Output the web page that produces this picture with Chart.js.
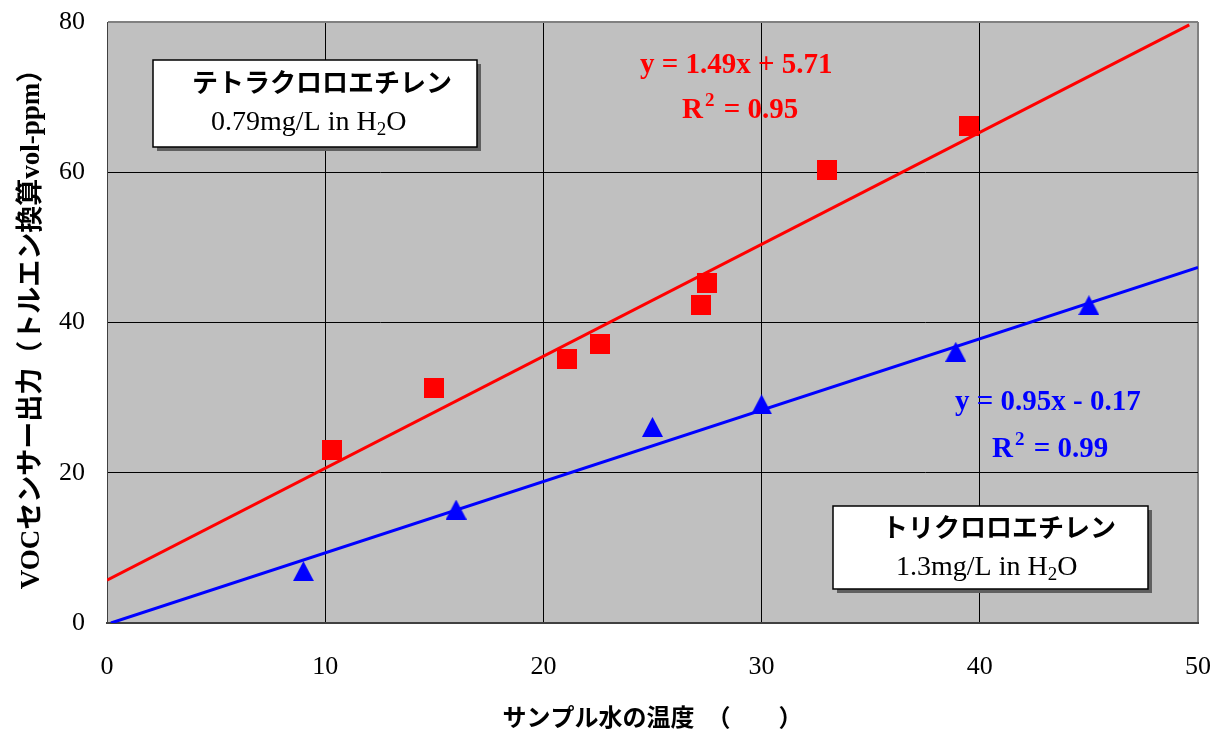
<!DOCTYPE html>
<html>
<head>
<meta charset="utf-8">
<script src="https://cdn.jsdelivr.net/npm/chart.js@4"></script>
<style>
  body { margin: 0; background: #fff; }
  canvas { display: block; }
</style>
</head>
<body>
<canvas id="chart" width="1214" height="731"></canvas>
<script>
//Chart data
var xTicks = [0, 10, 20, 30, 40, 50];
var yTicks = [0, 20, 40, 60, 80];

// tetrachloroethylene (red squares)
var tetraX = [10.3, 15.0, 21.1, 22.6, 27.2, 27.5, 33.0, 39.5];
var tetraY = [23.0, 31.3, 35.1, 37.1, 42.3, 45.2, 60.3, 66.2];
var tetraFit = [1.49, 5.71];      // slope, intercept
var tetraFitRange = [0, 49.6];

// trichloroethylene (blue triangles)
var triX = [9.0, 16.0, 25.0, 30.0, 38.9, 45.0];
var triY = [6.9, 15.1, 26.1, 29.1, 36.1, 42.3];
var triFit = [0.95, -0.17];
var triFitRange = [0.18, 50];

var xTitle = 'サンプル水の温度　（　　）';
var yTitle = 'VOCセンサー出力（トルエン換算vol-ppm）';

//Helpers
function toPoints(xs, ys) {
  var pts = [];
  for (var i = 0; i < xs.length; i++) {
    pts.push({x: xs[i], y: ys[i]});
  }
  return pts;
}

function fitPoints(fit, range) {
  return [
    {x: range[0], y: fit[0] * range[0] + fit[1]},
    {x: range[1], y: fit[0] * range[1] + fit[1]}
  ];
}

function makeSquare(size, color) {
  var c = document.createElement('canvas');
  c.width = size; c.height = size;
  var g = c.getContext('2d');
  g.fillStyle = color;
  g.fillRect(0, 0, size, size);
  return c;
}

function makeTriangle(w, h, color) {
  var c = document.createElement('canvas');
  c.width = w; c.height = h;
  var g = c.getContext('2d');
  g.fillStyle = color;
  g.beginPath();
  g.moveTo(w / 2, 0);
  g.lineTo(w, h);
  g.lineTo(0, h);
  g.closePath();
  g.fill();
  return c;
}

var RED = '#ff0000';
var BLUE = '#0000ff';
var SERIF = "'Liberation Serif', 'Times New Roman', serif";
var CJK = "'Noto Sans CJK JP', sans-serif";

//Plot background, text boxes and equations
var decorPlugin = {
  id: 'decor',
  beforeDraw: function (chart) {
    var a = chart.chartArea;
    var ctx = chart.ctx;
    ctx.save();
    ctx.fillStyle = '#c0c0c0';
    ctx.fillRect(a.left, a.top, a.right - a.left, a.bottom - a.top);
    ctx.restore();
  },
  afterDraw: function (chart) {
    var ctx = chart.ctx;
    ctx.save();

    function box(x, y, w, h) {
      ctx.fillStyle = '#606060';
      ctx.fillRect(x + 4, y + 4, w, h);
      ctx.fillStyle = '#ffffff';
      ctx.fillRect(x, y, w, h);
      ctx.strokeStyle = '#000000';
      ctx.lineWidth = 1.5;
      ctx.strokeRect(x, y, w, h);
    }

    function chem(x, y, amount) {
      ctx.fillStyle = '#000';
      ctx.textBaseline = 'alphabetic';
      ctx.font = '28px ' + SERIF;
      var s = amount + 'mg/L in H';
      ctx.fillText(s, x, y);
      var w = ctx.measureText(s).width;
      ctx.font = '19px ' + SERIF;
      ctx.fillText('2', x + w, y + 5);
      var w2 = ctx.measureText('2').width;
      ctx.font = '28px ' + SERIF;
      ctx.fillText('O', x + w + w2, y);
    }

    function rsq(x, y, val, color) {
      ctx.fillStyle = color;
      ctx.textBaseline = 'alphabetic';
      ctx.font = 'bold 29px ' + SERIF;
      ctx.fillText('R', x, y);
      var w = ctx.measureText('R').width;
      ctx.font = 'bold 19px ' + SERIF;
      ctx.fillText('2', x + w + 2, y - 12);
      var w2 = ctx.measureText('2').width;
      ctx.font = 'bold 29px ' + SERIF;
      ctx.fillText(' = ' + val, x + w + w2 + 4, y);
    }

    box(153, 60, 324, 87);
    ctx.fillStyle = '#000';
    ctx.textBaseline = 'middle';
    ctx.font = 'bold 26px ' + CJK;
    ctx.fillText('テトラクロロエチレン', 192, 82);
    chem(211, 130, '0.79');

    box(833, 506, 315, 83);
    ctx.fillStyle = '#000';
    ctx.textBaseline = 'middle';
    ctx.font = 'bold 26px ' + CJK;
    ctx.fillText('トリクロロエチレン', 882, 527);
    chem(896, 575, '1.3');

    ctx.textBaseline = 'alphabetic';
    ctx.fillStyle = RED;
    ctx.font = 'bold 29px ' + SERIF;
    ctx.fillText('y = 1.49x + 5.71', 640, 73);
    rsq(682, 118, '0.95', RED);

    ctx.fillStyle = BLUE;
    ctx.font = 'bold 29px ' + SERIF;
    ctx.fillText('y = 0.95x - 0.17', 955, 410);
    rsq(992, 457, '0.99', BLUE);

    ctx.restore();
  }
};

var ctx = document.getElementById('chart').getContext('2d');

var myChart = new Chart(ctx, {
  type: 'scatter',
  data: {
    datasets: [
      {
        label: 'tetra',
        data: toPoints(tetraX, tetraY),
        pointStyle: makeSquare(20, RED),
        order: 0
      },
      {
        label: 'tri',
        data: toPoints(triX, triY),
        pointStyle: makeTriangle(21, 20, BLUE),
        order: 0
      },
      {
        label: 'tetra fit',
        data: fitPoints(tetraFit, tetraFitRange),
        showLine: true,
        borderColor: RED,
        borderWidth: 3,
        pointRadius: 0,
        order: 1
      },
      {
        label: 'tri fit',
        data: fitPoints(triFit, triFitRange),
        showLine: true,
        borderColor: BLUE,
        borderWidth: 3,
        pointRadius: 0,
        order: 1
      }
    ]
  },
  options: {
    responsive: false,
    animation: false,
    devicePixelRatio: 1,
    layout: { padding: { left: 0, right: 16, top: 22, bottom: 0 } },
    plugins: {
      legend: { display: false },
      tooltip: { enabled: false }
    },
    scales: {
      x: {
        type: 'linear',
        min: 0,
        max: 50,
        afterBuildTicks: function (scale) {
          scale.ticks = xTicks.map(function (v) { return {value: v}; });
        },
        afterFit: function (scale) {
          scale.height = 108;
          scale.paddingLeft = 0;
          scale.paddingRight = 0;
        },
        grid: {
          drawTicks: false,
          color: function (c) { return c.tick && c.tick.value === 50 ? '#808080' : '#000000'; },
          lineWidth: function (c) { return c.tick && c.tick.value === 50 ? 2 : 1; }
        },
        border: { color: '#404040', width: 2 },
        ticks: {
          padding: 29,
          color: '#000',
          font: { family: SERIF, size: 26 }
        },
        title: {
          display: true,
          text: xTitle,
          color: '#000',
          padding: { top: 0, bottom: 0 },
          font: { family: CJK, size: 24, weight: 'bold' }
        }
      },
      y: {
        type: 'linear',
        min: 0,
        max: 80,
        afterBuildTicks: function (scale) {
          scale.ticks = yTicks.map(function (v) { return {value: v}; });
        },
        afterFit: function (scale) {
          scale.width = 107;
          scale.paddingTop = 0;
          scale.paddingBottom = 0;
        },
        grid: {
          drawTicks: false,
          color: function (c) { return c.tick && c.tick.value === 80 ? '#808080' : '#000000'; },
          lineWidth: function (c) { return c.tick && c.tick.value === 80 ? 2 : 1; }
        },
        border: { color: '#404040', width: 1 },
        ticks: {
          padding: 22,
          color: '#000',
          font: { family: SERIF, size: 26 }
        },
        title: {
          display: true,
          text: yTitle,
          color: '#000',
          padding: { top: 16, bottom: 0 },
          font: { family: SERIF + ", 'Noto Sans CJK JP'", size: 27, weight: 'bold' }
        }
      }
    }
  },
  plugins: [decorPlugin]
});
</script>
</body>
</html>
